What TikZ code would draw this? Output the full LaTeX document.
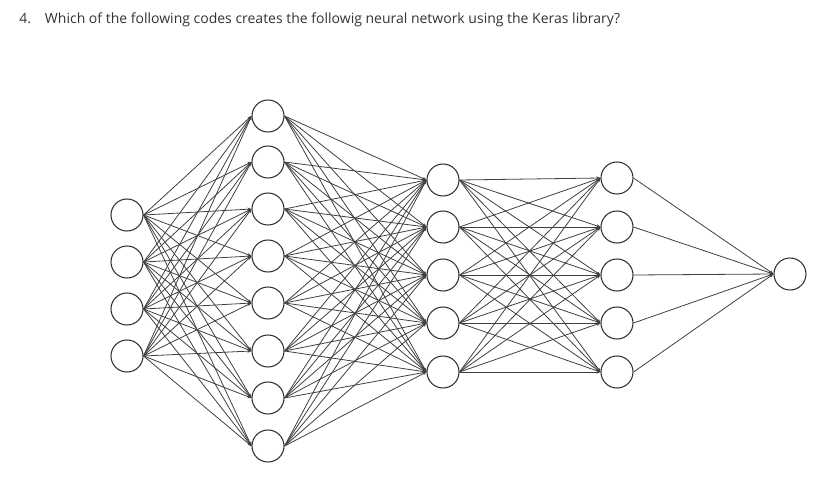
\documentclass[tikz,border=0pt]{standalone}
\usepackage{fontspec}
\setmainfont{Open Sans}
\usetikzlibrary{arrows.meta}
\tikzset{
  neuron/.style={draw=black!80, line width=0.8pt, circle, minimum size=24pt, inner sep=0pt, fill=white},
  conn/.style={draw=black!75, line width=0.6pt, -{Stealth[length=3pt,width=2.4pt]}},
  question/.style={anchor=base west, inner sep=0pt, font=\fontsize{10.5}{12.5}\selectfont, text=black!80}
}
\begin{document}
\begin{tikzpicture}[x=0.75pt,y=-0.75pt]
\useasboundingbox (0,0) rectangle (829,489);
\node[question] (q) at (19,23) {4.\hspace{1em}Which of the following codes creates the followig neural network using the Keras library?};
% layer 1
\foreach \i/\y in {1/215,2/262,3/309,4/356}
  \node[neuron] (a\i) at (127,\y) {};
% layer 2
\foreach \i/\y in {1/116,2/162,3/209,4/256,5/303,6/351,7/398,8/446}
  \node[neuron] (b\i) at (268,\y) {};
% layer 3
\foreach \i/\y in {1/180,2/227,3/275,4/323,5/372}
  \node[neuron] (c\i) at (443,\y) {};
% layer 4
\foreach \i/\y in {1/178,2/227,3/275,4/323,5/372}
  \node[neuron] (d\i) at (617,\y) {};
% output
\node[neuron] (e1) at (790,274) {};
\foreach \i in {1,...,4}
  \foreach \j in {1,...,8}
    \draw[conn] (a\i.east) -- (b\j.west);
\foreach \i in {1,...,8}
  \foreach \j in {1,...,5}
    \draw[conn] (b\i.east) -- (c\j.west);
\foreach \i in {1,...,5}
  \foreach \j in {1,...,5}
    \draw[conn] (c\i.east) -- (d\j.west);
\foreach \i in {1,...,5}
  \draw[conn] (d\i.east) -- (e1.west);
\end{tikzpicture}
\end{document}
